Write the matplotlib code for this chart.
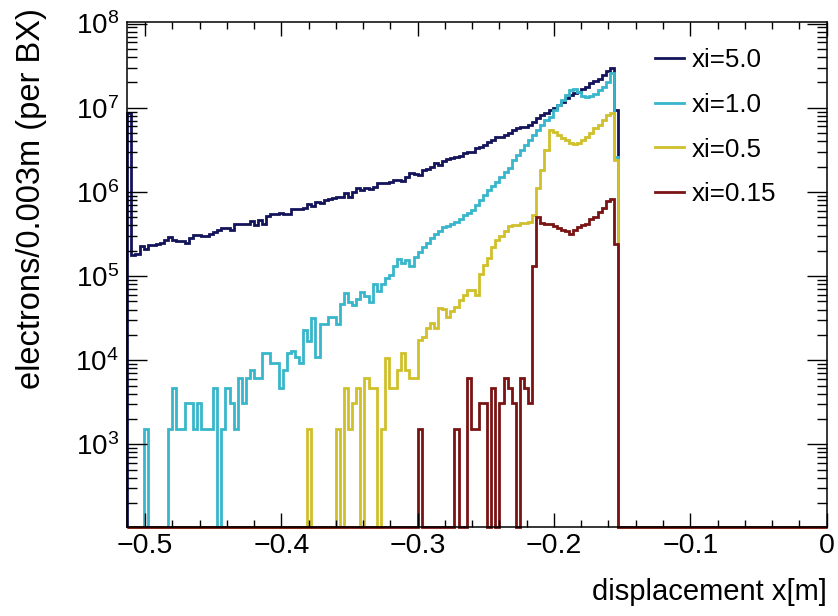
import numpy as np
import matplotlib
matplotlib.use('Agg')
import matplotlib.pyplot as plt
from matplotlib.lines import Line2D
from matplotlib.ticker import LogLocator, MultipleLocator, FuncFormatter, NullFormatter

plt.rcParams['font.family'] = ['Liberation Sans', 'DejaVu Sans']
plt.rcParams['mathtext.fontset'] = 'custom'
plt.rcParams['mathtext.rm'] = 'Liberation Sans'
plt.rcParams['mathtext.it'] = 'Liberation Sans:italic'

# histogram binning: 171 bins of 0.003 m from -0.513 to 0
x_lo, x_hi = -0.513, 0.0
n_bins = 171

# bin contents (bins past -0.153 are empty)
xi_5_0 = [8.6e6, 1.78e5, 1.85e5, 2.3e5, 2.1e5, 2.35e5, 2.35e5, 2.4e5, 2.45e5, 2.7e5,
          2.9e5, 2.7e5, 2.6e5, 2.6e5, 2.45e5, 2.8e5, 3.05e5, 3.1e5, 3.0e5, 3.0e5,
          3.15e5, 3.35e5, 3.5e5, 3.75e5, 3.75e5, 3.5e5, 4.15e5, 4.15e5, 4.15e5, 4.15e5,
          4.45e5, 4.05e5, 4.6e5, 4.2e5, 5.2e5, 5.4e5, 5.5e5, 5.6e5, 5.45e5, 5.45e5,
          6.3e5, 6.3e5, 6.3e5, 6.5e5, 7.1e5, 6.8e5, 7.6e5, 7.3e5, 7.9e5, 8.2e5,
          8.5e5, 8.8e5, 8.8e5, 9.6e5, 8.8e5, 9.9e5, 1.1e6, 1.05e6, 1.1e6, 1.07e6,
          1.15e6, 1.27e6, 1.27e6, 1.27e6, 1.32e6, 1.4e6, 1.38e6, 1.35e6, 1.5e6, 1.69e6,
          1.65e6, 1.6e6, 1.8e6, 1.87e6, 2.0e6, 2.2e6, 2.1e6, 2.3e6, 2.45e6, 2.5e6,
          2.6e6, 2.65e6, 2.9e6, 2.95e6, 3.0e6, 3.3e6, 3.44e6, 3.6e6, 3.95e6, 4.1e6,
          4.5e6, 4.5e6, 4.7e6, 4.96e6, 5.4e6, 5.7e6, 5.95e6, 5.95e6, 6.2e6, 6.8e6,
          7.5e6, 8.2e6, 8.6e6, 9.4e6, 9.8e6, 1.07e7, 1.18e7, 1.29e7, 1.41e7, 1.48e7,
          1.55e7, 1.69e7, 1.77e7, 1.94e7, 2.1e7, 2.2e7, 2.45e7, 2.7e7, 3.0e7, 9.5e6]

xi_1_0 = [0, 0, 0, 0, 1536, 0, 0, 0, 0, 0,
          1536, 4608, 1536, 1536, 3072, 3072, 1536, 3072, 1536, 1536,
          1536, 4608, 0, 1536, 4608, 3072, 1536, 6144, 3072, 6144,
          7680, 6144, 6144, 12288, 12288, 9216, 9216, 4608, 7680, 12288,
          13000, 11000, 9200, 23000, 16700, 32000, 11000, 27000, 27000, 33000,
          33000, 27000, 47000, 62000, 49000, 45000, 54000, 65000, 58000, 49000,
          80000, 67000, 80000, 96000, 1.03e5, 1.33e5, 1.58e5, 1.42e5, 1.55e5, 1.3e5,
          1.7e5, 1.95e5, 2.2e5, 2.45e5, 2.8e5, 3.2e5, 3.4e5, 3.8e5, 3.9e5, 4.1e5,
          4.4e5, 4.8e5, 5.3e5, 5.6e5, 6.1e5, 7.0e5, 8.0e5, 9.2e5, 1.05e6, 1.18e6,
          1.32e6, 1.51e6, 1.74e6, 1.9e6, 2.4e6, 2.75e6, 3.15e6, 3.6e6, 4.1e6, 4.7e6,
          5.4e6, 6.2e6, 7.1e6, 7.8e6, 9.4e6, 1.07e7, 1.23e7, 1.41e7, 1.62e7, 1.69e7,
          1.55e7, 1.38e7, 1.33e7, 1.38e7, 1.45e7, 1.62e7, 1.77e7, 2.03e7, 2.6e7, 2.6e6]

xi_0_5 = [0, 0, 0, 0, 0, 0, 0, 0, 0, 0,
          0, 0, 0, 0, 0, 0, 0, 0, 0, 0,
          0, 0, 0, 0, 0, 0, 0, 0, 0, 0,
          0, 0, 0, 0, 0, 0, 0, 0, 0, 0,
          0, 0, 0, 0, 1536, 0, 0, 0, 0, 0,
          0, 1536, 0, 4608, 1536, 3072, 4608, 0, 6144, 4608,
          4608, 0, 1536, 10752, 4608, 4608, 7680, 12288, 7680, 6144,
          6144, 17400, 19000, 24000, 27500, 24000, 42000, 41000, 33000, 38000,
          43000, 52000, 59000, 69000, 68000, 59000, 1.07e5, 1.35e5, 1.62e5, 2.22e5,
          2.68e5, 2.95e5, 3.4e5, 3.9e5, 4.07e5, 4.07e5, 4.25e5, 4.3e5, 4.4e5, 5.3e5,
          1.1e6, 1.82e6, 3.15e6, 5.4e6, 5.2e6, 4.7e6, 4.35e6, 4.1e6, 3.8e6, 3.75e6,
          3.8e6, 4.1e6, 4.5e6, 4.96e6, 5.7e6, 6.2e6, 7.1e6, 8.2e6, 8.6e6, 2.4e6]

xi_0_15 = [0, 0, 0, 0, 0, 0, 0, 0, 0, 0,
           0, 0, 0, 0, 0, 0, 0, 0, 0, 0,
           0, 0, 0, 0, 0, 0, 0, 0, 0, 0,
           0, 0, 0, 0, 0, 0, 0, 0, 0, 0,
           0, 0, 0, 0, 0, 0, 0, 0, 0, 0,
           0, 0, 0, 0, 0, 0, 0, 0, 0, 0,
           0, 0, 0, 0, 0, 0, 0, 0, 0, 0,
           0, 1536, 0, 0, 0, 0, 0, 0, 0, 0,
           1536, 0, 0, 6144, 1536, 1536, 3072, 3072, 0, 4608,
           0, 3072, 6144, 4608, 3072, 0, 6144, 4608, 3072, 1.3e5,
           5.0e5, 4.3e5, 4.2e5, 4.15e5, 3.9e5, 3.7e5, 3.5e5, 3.4e5, 3.2e5, 3.55e5,
           3.8e5, 4.05e5, 4.2e5, 4.7e5, 5.0e5, 5.7e5, 6.5e5, 7.8e5, 8.3e5, 2.4e5]

labels = ['xi=5.0', 'xi=1.0', 'xi=0.5', 'xi=0.15']
colors = ['#14145a', '#38b6cb', '#d0c02c', '#7a1414']

ylo, yhi = 10**2.014, 10**8.015

fig = plt.figure(figsize=(8.38, 6.16), dpi=100)
ax = fig.add_axes([0.1519, 0.1440, 0.8345, 0.8198])

edges = np.linspace(x_lo, x_hi, n_bins + 1)
for vals, col in zip([xi_5_0, xi_1_0, xi_0_5, xi_0_15], colors):
    v = np.concatenate([np.asarray(vals, float), np.zeros(n_bins - len(vals))])
    v = np.where(v > 0, v, ylo)  # empty bins sit on the frame, ROOT style
    ax.stairs(v, edges, baseline=ylo, color=col, lw=2.0, clip_on=False)

ax.set_yscale('log')
ax.set_xlim(x_lo, x_hi)
ax.set_ylim(ylo, yhi)

ax.xaxis.set_major_locator(MultipleLocator(0.1))
ax.xaxis.set_minor_locator(MultipleLocator(0.02))
ax.xaxis.set_major_formatter(FuncFormatter(
    lambda v, _: '0' if abs(v) < 1e-9 else f'{v:g}'.replace('-', '\u2212')))
ax.yaxis.set_major_locator(LogLocator(base=10))
ax.yaxis.set_minor_locator(LogLocator(base=10, subs=np.arange(2, 10)))
ax.yaxis.set_minor_formatter(NullFormatter())

ax.tick_params(which='both', direction='in', top=True, right=True, width=1.0)
ax.tick_params(axis='x', which='major', length=10, pad=4, labelsize=20.5)
ax.tick_params(axis='x', which='minor', length=5)
ax.tick_params(axis='y', which='major', length=14.5, pad=6, labelsize=20)
ax.tick_params(axis='y', which='minor', length=7.5)
for s in ax.spines.values():
    s.set_linewidth(1.1)

fig.text(826.7 / 838, 1 - 600 / 616, 'displacement x[m]', ha='right', va='baseline', fontsize=21)
fig.text(31.7 / 838, 1 - 8 / 616, 'electrons/0.003m (per BX)', rotation=90,
         ha='center', va='top', fontsize=23.5)

handles = [Line2D([], [], color=c, lw=2.0) for c in colors]
ax.legend(handles, labels, loc='upper left', bbox_to_anchor=(655 / 838, 1 - 48 / 616),
          bbox_transform=fig.transFigure, frameon=False, fontsize=18.7,
          handlelength=1.1, handletextpad=0.3, labelspacing=0.8,
          borderpad=0, borderaxespad=0)

fig.savefig('out.png', dpi=100)
